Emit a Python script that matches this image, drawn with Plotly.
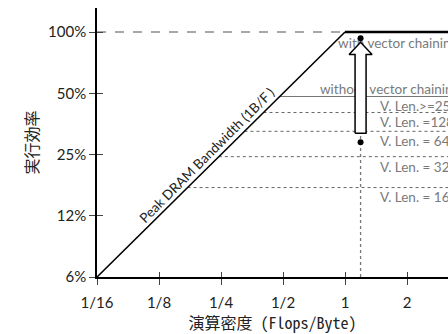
import math
import plotly.graph_objects as go

# ---- data ----
x_tick_vals = [1/16, 1/8, 1/4, 1/2, 1, 2]
x_tick_text = ["1/16", "1/8", "1/4", "1/2", "1", "2"]
y_tick_vals = [1/16, 1/8, 1/4, 1/2, 1]
y_tick_text = ["6%", "12%", "25%", "50%", "100%"]

peak_eff = 1.0          # 100%
bandwidth_bf = 1.0      # 1 B/F -> ridge at 1 Flops/Byte
ridge = peak_eff / bandwidth_bf

vlen_labels = ["V. Len.>=256", "V. Len. =128", "V. Len. = 64", "V. Len. = 32", "V. Len. = 16"]
vlen_eff = [0.482, 0.402, 0.325, 0.244, 0.172]

app_intensity = 1.19
eff_without_chaining = 0.287
eff_with_chaining = 0.932

x_min, x_max = 1/16, 10 ** 0.5
y_min, y_max = 1/16, 10 ** 0.118

PX_X = 62.0   # px per octave (x)
PX_Y = 61.25  # px per octave (y)

def fx(px):
    return 2 ** (px / PX_X)

def fy(px):
    return 2 ** (px / PX_Y)

TXT = "Lato"
CJK = "Noto Sans Mono CJK JP, Noto Sans CJK JP"

fig = go.Figure()

# 100% dashed reference
fig.add_trace(go.Scatter(x=[x_min, ridge], y=[peak_eff, peak_eff], mode="lines",
                         line=dict(color="#8a8a8a", width=1.3, dash="dash"), hoverinfo="skip"))

# horizontal vector-length ceilings (start at the bandwidth line)
for i, (lab, e) in enumerate(zip(vlen_labels, vlen_eff)):
    fig.add_trace(go.Scatter(x=[e / bandwidth_bf, x_max], y=[e, e], mode="lines",
                             line=dict(color="#777777" if i == 0 else "#666666", width=1,
                                       dash="solid" if i == 0 else "dot"),
                             hoverinfo="skip"))

# vertical dotted line at application intensity
fig.add_trace(go.Scatter(x=[app_intensity, app_intensity], y=[y_min, eff_with_chaining], mode="lines",
                         line=dict(color="#777777", width=1.3, dash="dot"), hoverinfo="skip"))

# roofline
fig.add_trace(go.Scatter(x=[x_min, ridge], y=[x_min * bandwidth_bf, peak_eff], mode="lines",
                         line=dict(color="black", width=1.6), hoverinfo="skip"))
fig.add_trace(go.Scatter(x=[ridge, x_max], y=[peak_eff, peak_eff], mode="lines",
                         line=dict(color="black", width=2.6), hoverinfo="skip"))

# labels (as scatter text so the arrow can cover them)
lab_x = [1.479] * len(vlen_labels)
lab_y = [e / fy(11.5) for e in vlen_eff]
fig.add_trace(go.Scatter(x=lab_x, y=lab_y, mode="text", text=vlen_labels,
                         textposition="middle right", cliponaxis=False,
                         textfont=dict(family=TXT, size=13.5, color="#7a7a7a"), hoverinfo="skip"))
fig.add_trace(go.Scatter(x=[0.925, 0.756], y=[peak_eff / fy(12.5), vlen_eff[0] * fy(5.5)],
                         mode="text", text=["with vector chaining", "without vector chaining"],
                         textposition="middle right", cliponaxis=False,
                         textfont=dict(family=TXT, size=13.5, color="#7a7a7a"), hoverinfo="skip"))

# arrow
xc = app_intensity
fb, fh = fx(5.5), fx(11.5)
ybot = eff_without_chaining * fy(9)
ytip = eff_with_chaining / fy(4)
yhb = ytip / fy(12.3)
ax_ = [xc / fb, xc / fb, xc / fh, xc, xc * fh, xc * fb, xc * fb, xc / fb]
ay_ = [ybot, yhb, yhb, ytip, yhb, yhb, ybot, ybot]
fig.add_trace(go.Scatter(x=ax_, y=ay_, mode="lines", fill="toself", fillcolor="white",
                         line=dict(color="black", width=1.5), hoverinfo="skip"))

# points
fig.add_trace(go.Scatter(x=[app_intensity, app_intensity], y=[eff_with_chaining, eff_without_chaining],
                         mode="markers", marker=dict(color="black", size=6), hoverinfo="skip"))

# dummy trace for cross-tick overlay axes
fig.add_trace(go.Scatter(x=[1], y=[1], xaxis="x2", yaxis="y2", mode="markers",
                         marker=dict(opacity=0), hoverinfo="skip"))

fig.add_annotation(x=math.log10(0.23), y=math.log10(0.23), text="Peak DRAM Bandwidth (1B/F )",
                   textangle=-45, showarrow=False, xshift=-6.5, yshift=6.5,
                   font=dict(family=TXT, size=13.5, color="#222222"))

xr = [math.log10(x_min), math.log10(x_max)]
yr = [math.log10(y_min), math.log10(y_max)]

common_axis = dict(showgrid=False, zeroline=False, automargin=False)
fig.update_layout(
    width=448, height=334,
    margin=dict(l=97, r=0, t=8, b=57),
    paper_bgcolor="white", plot_bgcolor="white",
    showlegend=False,
    xaxis=dict(type="log", range=xr, tickvals=x_tick_vals, ticktext=x_tick_text,
               ticks="outside", ticklen=6, tickcolor="#444", tickwidth=1,
               showline=True, linecolor="black", linewidth=1.6,
               tickfont=dict(family=TXT, size=15, color="#222"), ticklabelstandoff=5,
               title=dict(text="演算密度 (Flops/Byte)", font=dict(family=CJK, size=16, color="#222"),
                          standoff=2),
               **common_axis),
    yaxis=dict(type="log", range=yr, tickvals=y_tick_vals, ticktext=y_tick_text,
               ticks="outside", ticklen=6, tickcolor="#444", tickwidth=1,
               showline=True, linecolor="black", linewidth=1.6,
               tickfont=dict(family=TXT, size=15, color="#222"),
               title=dict(text="実行効率", font=dict(family="Noto Sans CJK JP", size=16, color="#222"),
                          standoff=5),
               **common_axis),
    xaxis2=dict(type="log", range=xr, overlaying="x", anchor="y2", tickvals=x_tick_vals,
                ticks="inside", ticklen=5, tickcolor="#444", tickwidth=1,
                showticklabels=False, showline=False, **common_axis),
    yaxis2=dict(type="log", range=yr, overlaying="y", anchor="x2", tickvals=y_tick_vals,
                ticks="inside", ticklen=6, tickcolor="#444", tickwidth=1,
                showticklabels=False, showline=False, **common_axis),
)

fig.write_html("out.html", config={"displayModeBar": False},
               post_script="document.body.style.margin='0';document.body.style.overflow='hidden';")
